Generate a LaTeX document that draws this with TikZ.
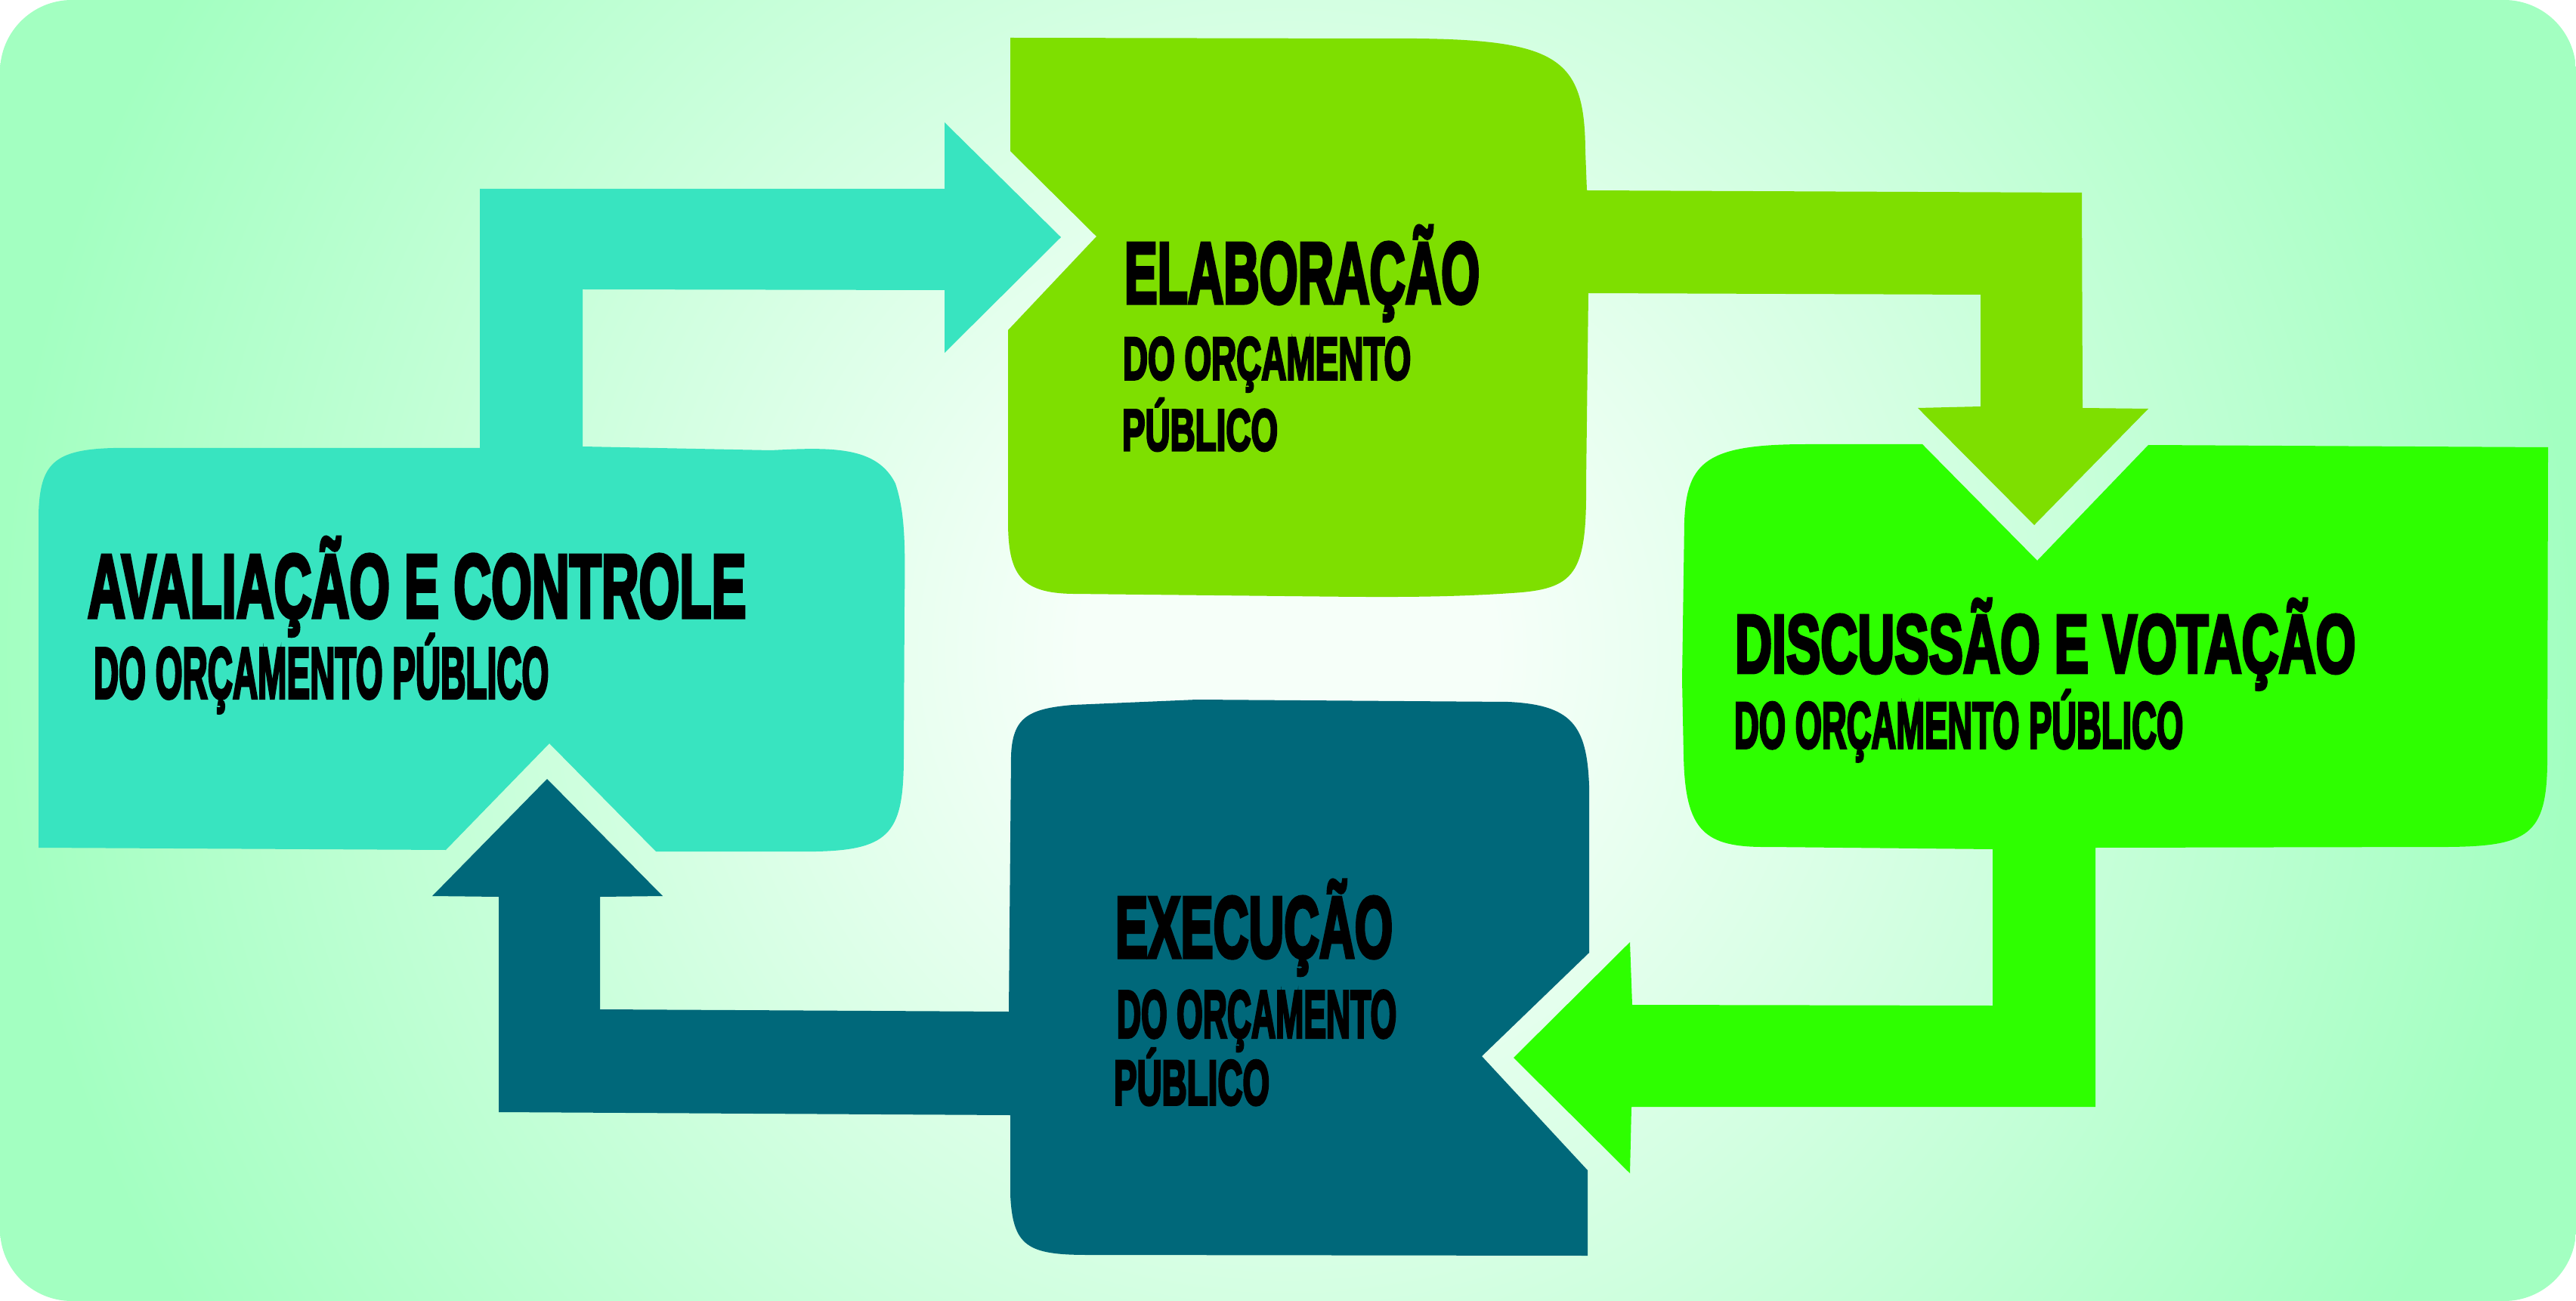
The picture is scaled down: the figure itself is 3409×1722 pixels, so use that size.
\documentclass[tikz,border=0pt]{standalone}
\usepackage{fontspec}
\usepackage{graphicx}
\newfontfamily\lbl{Liberation Sans}[UprightFont={* Bold}, FakeBold=4.5]
\definecolor{avcol}{RGB}{56,228,192}
\definecolor{elcol}{RGB}{126,223,0}
\definecolor{dicol}{RGB}{46,255,0}
\definecolor{excol}{RGB}{0,104,122}
\definecolor{bgin}{RGB}{246,255,249}
\definecolor{bgout}{RGB}{163,255,193}
\pgfdeclareradialshading{bgshade}{\pgfpoint{0bp}{0bp}}{color(0bp)=(bgin); color(4bp)=(bgin); color(25bp)=(bgout); color(50bp)=(bgout)}
\tikzset{
  lab/.style={inner sep=0pt, outer sep=0pt, anchor=base west, text=black},
  shapefill/.style={draw=none}
}
\newcommand\fitlab[3]{\resizebox{#1}{\height}{\fontsize{#2}{#2}\lbl #3}}
\begin{document}
\begin{tikzpicture}[x=0.01cm, y=-0.01cm]
\useasboundingbox (0,0) rectangle (3409,1722);
\fill[white] (0,0) rectangle (3409,1722);
% background
\begin{scope}
\clip[rounded corners=0.95cm] (0,0) rectangle (3409,1722);
\shade[shading=bgshade] (0,-843) rectangle (3409,2565);
\end{scope}

% Avaliacao (teal)
\fill[avcol, shapefill] (635,593) -- (635,250) -- (1250,250) -- (1250,162) -- (1404,314) -- (1250,467) -- (1250,384) -- (771,383) -- (771,591)
  -- (1020,596) .. controls (1100,592) and (1160,590) .. (1185,640)
  .. controls (1198,680) and (1198,720) .. (1197,800) -- (1196,1000)
  .. controls (1196,1100) and (1180,1125) .. (1080,1127) -- (868,1127) -- (727,984) -- (590,1125) -- (51,1122) -- (51,680)
  .. controls (53,615) and (70,595) .. (150,593) -- cycle;

% Elaboracao (lime)
\fill[elcol, shapefill] (1337,50) -- (1821,51) .. controls (2060,49) and (2097,70) .. (2098,200) -- (2100,252) -- (2755,255) -- (2756,540) -- (2843,541) -- (2692,695) -- (2538,540) -- (2621,538) -- (2621,390) -- (2102,388) -- (2099,640)
  .. controls (2100,760) and (2085,780) .. (2000,785) .. controls (1900,792) and (1800,790) .. (1700,789) -- (1420,786)
  .. controls (1350,785) and (1334,760) .. (1334,690) -- (1334,437) -- (1451,313) -- (1337,200) -- cycle;

% Discussao (bright green)
\fill[dicol, shapefill] (2391,588) -- (2544,588) -- (2696,742) -- (2843,589) -- (3372,592) -- (3371,1010)
  .. controls (3370,1105) and (3345,1120) .. (3240,1121) -- (2773,1122) -- (2773,1465) -- (2159,1465) -- (2157,1553) -- (2003,1400) -- (2157,1247) -- (2160,1330) -- (2637,1331) -- (2637,1124) -- (2340,1121)
  .. controls (2255,1122) and (2230,1100) .. (2228,1000) -- (2226,900) -- (2229,690)
  .. controls (2232,610) and (2260,588) .. (2391,588) -- cycle;

% Execucao (dark teal)
\fill[excol, shapefill] (1338,1000) .. controls (1340,950) and (1360,938) .. (1420,933) -- (1584,926) -- (1996,929)
  .. controls (2080,933) and (2100,960) .. (2103,1040) -- (2103,1261) -- (1961,1398) -- (2101,1549) -- (2101,1662) -- (1440,1661)
  .. controls (1360,1661) and (1340,1650) .. (1337,1581) -- (1337,1476) -- (660,1472) -- (660,1187) -- (572,1186) -- (724,1031) -- (877,1186) -- (794,1187) -- (794,1336) -- (1335,1339) -- cycle;

% texts
\node[lab] (av1) at (116,817) {\fitlab{8.71cm}{33.8}{AVALIAÇÃO E CONTROLE}};
\node[lab] (av2) at (124,924) {\fitlab{6.02cm}{27.2}{DO ORÇAMENTO PÚBLICO}};
\node[lab] (el1) at (1488,401) {\fitlab{4.70cm}{32.6}{ELABORAÇÃO}};
\node[lab] (el2) at (1486,502) {\fitlab{3.81cm}{22.6}{DO ORÇAMENTO}};
\node[lab] (el3) at (1485,596) {\fitlab{2.06cm}{22.0}{PÚBLICO}};
\node[lab] (di1) at (2296,890) {\fitlab{8.21cm}{31.0}{DISCUSSÃO E VOTAÇÃO}};
\node[lab] (di2) at (2295,990) {\fitlab{5.94cm}{24.6}{DO ORÇAMENTO PÚBLICO}};
\node[lab] (ex1) at (1476,1267) {\fitlab{3.67cm}{32.6}{EXECUÇÃO}};
\node[lab] (ex2) at (1478,1373) {\fitlab{3.70cm}{25.2}{DO ORÇAMENTO}};
\node[lab] (ex3) at (1474,1462) {\fitlab{2.06cm}{23.8}{PÚBLICO}};
\end{tikzpicture}
\end{document}
